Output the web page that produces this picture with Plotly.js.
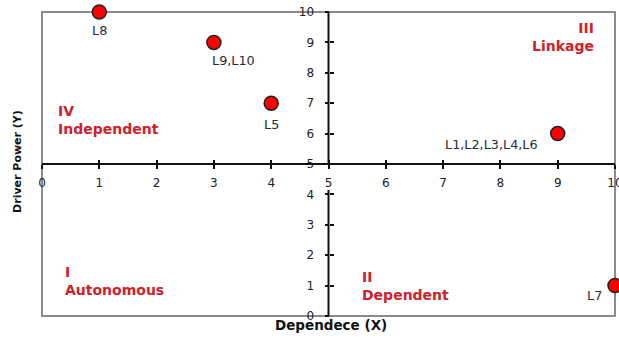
<!DOCTYPE html>
<html>
<head>
<meta charset="utf-8">
<script src="https://cdn.plot.ly/plotly-3.0.1.min.js"></script>
<style>html,body{margin:0;padding:0;background:#fff;}#chart{width:619px;height:338px;}</style>
</head>
<body>
<div id="chart"></div>
<script>
// Data
const pointLabels = ["L8", "L9,L10", "L5", "L1,L2,L3,L4,L6", "L7"];
const dependence = [1, 3, 4, 9, 10];
const drivingPower = [10, 9, 7, 6, 1];
const labelShiftX = [0, 20, 0, -66, -21];
const labelShiftY = [-18, -18, -21, -11, -10];
const quadrantNames = ["IV<br>Independent", "III<br>Linkage", "I<br>Autonomous", "II<br>Dependent"];
const quadrantX = [0.25, 9.66, 0.36, 5.55];
const quadrantY = [6.45, 9.18, 1.15, 0.99];
const quadrantAlign = ["left", "right", "left", "left"];
const tickVals = [0, 1, 2, 3, 4, 5, 6, 7, 8, 9, 10];

const tickFont = {family: "'DejaVu Sans', Verdana, sans-serif", size: 12, color: "#222"};
const titleFontX = {family: "'DejaVu Sans', sans-serif", size: 13.5, color: "#111", weight: "bold"};
const titleFontY = {family: "'DejaVu Sans', sans-serif", size: 11, color: "#111", weight: "bold"};
const red = "#d0202a";

const traces = [{
  type: "scatter", mode: "markers",
  x: dependence, y: drivingPower,
  marker: {size: 14, color: "#ff0000", line: {color: "#222", width: 1.5}},
  cliponaxis: false, hoverinfo: "skip", showlegend: false
}];

const annotations = [];
pointLabels.forEach((t, i) => annotations.push({
  x: dependence[i], y: drivingPower[i], xref: "x", yref: "y", text: t,
  showarrow: false, xshift: labelShiftX[i], yshift: labelShiftY[i],
  font: {family: "'DejaVu Sans', Verdana, sans-serif", size: 12.8, color: "#2a2a3a"}
}));
quadrantNames.forEach((t, i) => annotations.push({
  x: quadrantX[i], y: quadrantY[i], xref: "x", yref: "y", text: t,
  showarrow: false, xanchor: quadrantAlign[i], yanchor: "middle", align: quadrantAlign[i],
  font: {family: "'DejaVu Sans', sans-serif", size: 14, color: red, weight: "bold"}
}));
annotations.push({x: 0.505, y: -0.0296, xref: "paper", yref: "paper", text: "Dependece (X)",
  showarrow: false, xanchor: "center", yanchor: "middle", font: titleFontX});
annotations.push({x: -0.042, y: 0.51, xref: "paper", yref: "paper", text: "Driver Power (Y)",
  showarrow: false, textangle: -90, xanchor: "center", yanchor: "middle", font: titleFontY});

const common = {range: [0, 10], tickvals: tickVals, zeroline: false, showgrid: false, fixedrange: true};

const layout = {
  width: 619, height: 338,
  margin: {l: 42, r: 4, t: 12, b: 22},
  paper_bgcolor: "#fff", plot_bgcolor: "#fff",
  showlegend: false,
  xaxis: Object.assign({}, common, {
    anchor: "free", position: 0.5, showline: true, linecolor: "#111", linewidth: 2,
    ticks: "outside", ticklen: 4, tickwidth: 2, tickcolor: "#111",
    tickfont: tickFont, ticklabelstandoff: 4, ticklabeloverflow: "allow"
  }),
  xaxis2: Object.assign({}, common, {
    overlaying: "x", anchor: "free", position: 0.5, side: "bottom", showline: false,
    ticks: "inside", ticklen: 4, tickwidth: 2, tickcolor: "#111", showticklabels: false
  }),
  yaxis: Object.assign({}, common, {
    anchor: "free", position: 0.5, showline: false,
    ticks: "outside", ticklen: 4, tickwidth: 2, tickcolor: "#111",
    tickfont: tickFont, ticklabelstandoff: 8, ticklabeloverflow: "allow"
  }),
  yaxis2: Object.assign({}, common, {
    overlaying: "y", anchor: "free", position: 0.5, side: "left", showline: false,
    ticks: "inside", ticklen: 4, tickwidth: 2, tickcolor: "#111", showticklabels: false
  }),
  shapes: [
    {type: "rect", xref: "paper", yref: "paper", x0: 0, x1: 1, y0: 0, y1: 1,
      line: {color: "#666", width: 1.5}, layer: "below"},
    {type: "line", xref: "x", yref: "y", x0: 5, x1: 5, y0: 5, y1: 10,
      line: {color: "#111", width: 2}, layer: "above"},
    {type: "line", xref: "x", yref: "y", x0: 5, x1: 5, y0: 0, y1: 4.15,
      line: {color: "#111", width: 2}, layer: "above"}
  ],
  annotations: annotations
};

traces.push({type: "scatter", x: [], y: [], xaxis: "x2", yaxis: "y2", showlegend: false, hoverinfo: "skip"});

Plotly.newPlot("chart", traces, layout, {staticPlot: true, displayModeBar: false});
</script>
</body>
</html>
